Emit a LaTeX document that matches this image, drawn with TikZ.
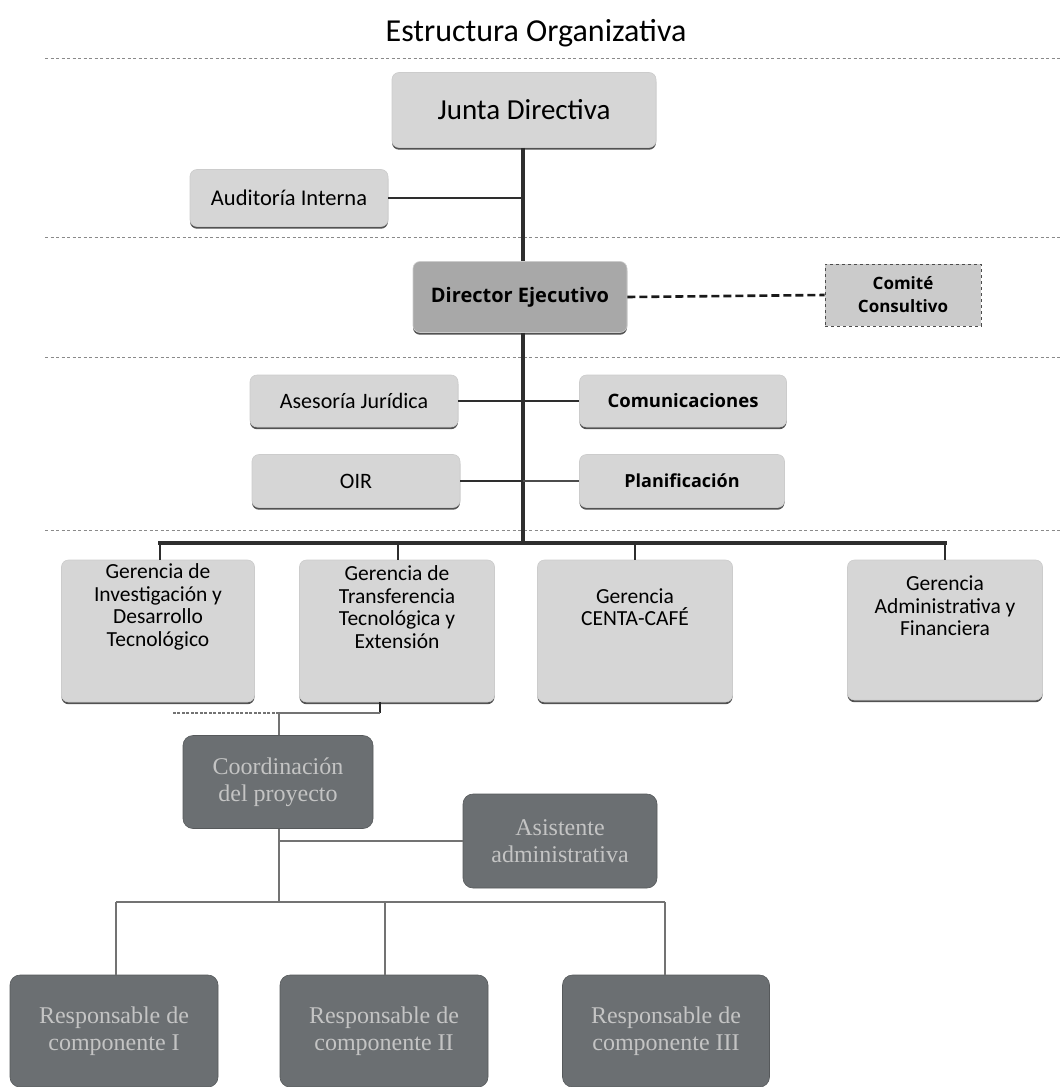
\documentclass[tikz,border=0pt]{standalone}
\usepackage{fontspec}
\setmainfont{Carlito}
\newfontfamily\osans{Open Sans}
\newfontfamily\tnr{Liberation Serif}
\usetikzlibrary{shadows}
\definecolor{lightbox}{HTML}{D6D6D6}
\definecolor{midbox}{HTML}{A8A8A8}
\definecolor{darkbox}{HTML}{6B6F72}
\definecolor{darktext}{HTML}{C4C4C4}
\definecolor{sepline}{HTML}{8A8A8A}
\definecolor{trunk}{HTML}{2E2E2E}
\begin{document}
\begin{tikzpicture}[x=1pt,y=-1pt,
  lbox/.style={rectangle, rounded corners=7pt, fill=lightbox, draw=black!20, line width=0.6pt,
    align=center, inner sep=2pt,
    drop shadow={shadow xshift=0pt, shadow yshift=-2.2pt, fill=black!75, opacity=0.9}},
  dbox/.style={rectangle, rounded corners=10pt, fill=darkbox, draw=darkbox!80!black, line width=0.6pt,
    align=center, text=darktext, font=\tnr\fontsize{24}{27}\selectfont},
  sep/.style={draw=sepline, line width=0.9pt, dash pattern=on 3pt off 2.5pt},
  thick trunk/.style={draw=trunk, line width=3.5pt},
  mid link/.style={draw=trunk, line width=2.8pt},
  thin link/.style={draw=black!70, line width=1.6pt},
  grey link/.style={draw=black!55, line width=1.4pt},
  txt/.style={font=\fontsize{21.5}{22.5}\selectfont, align=center}
]
\useasboundingbox[fill=white] (0,0) rectangle (1062,1087);

% title
\node[font=\fontsize{32}{34}\selectfont] (title) at (536,33) {Estructura Organizativa};

% separators
\coordinate (s1a) at (45,58);   \coordinate (s1b) at (1062,58);
\coordinate (s2a) at (45,237);  \coordinate (s2b) at (1062,237);
\coordinate (s3a) at (45,357);  \coordinate (s3b) at (1062,357);
\coordinate (s4a) at (45,530);  \coordinate (s4b) at (1062,530);
\path[sep] (s1a) -- (s1b);
\path[sep] (s2a) -- (s2b);
\path[sep] (s3a) -- (s3b);
\path[sep] (s4a) -- (s4b);

% top level
\node[lbox, minimum width=264, minimum height=75, font=\fontsize{29}{32}\selectfont] (jd) at (524,110) {Junta Directiva};
\node[lbox, minimum width=198, minimum height=57, font=\fontsize{22.5}{24}\selectfont] (aud) at (289,198) {Auditoría Interna};
\node[lbox, fill=midbox, minimum width=214, minimum height=71, font=\osans\bfseries\fontsize{20}{22}\selectfont] (de) at (520,297) {Director Ejecutivo};
\node[rectangle, fill=lightbox!95!black, draw=black!70, dashed, line width=0.8pt, minimum width=156, minimum height=62,
      align=center, font=\osans\bfseries\fontsize{17}{23}\selectfont] (cc) at (903,295) {Comité\\Consultivo};

\node[lbox, minimum width=208, minimum height=52, font=\fontsize{22}{24}\selectfont] (aj) at (354,401) {Asesoría Jurídica};
\node[lbox, minimum width=207, minimum height=52, font=\osans\bfseries\fontsize{18.5}{20}\selectfont] (com) at (683,401) {Comunicaciones};
\node[lbox, minimum width=208, minimum height=53, font=\fontsize{22}{24}\selectfont] (oir) at (356,481) {OIR};
\node[lbox, minimum width=205, minimum height=53, font=\osans\bfseries\fontsize{18}{20}\selectfont] (pla) at (682,481) {Planificación};

% gerencias
\node[lbox, minimum width=193, minimum height=142] (g1) at (158,631) {};
\node[lbox, minimum width=195, minimum height=142] (g2) at (397,631) {};
\node[lbox, minimum width=195, minimum height=142] (g3) at (635,631) {};
\node[lbox, minimum width=195, minimum height=140] (g4) at (945,630) {};
\node[txt] (g1t) at (158,607) {Gerencia de\\Investigación y\\Desarrollo\\Tecnológico};
\node[txt] (g2t) at (397,607) {Gerencia de\\Transferencia\\Tecnológica y\\Extensión};
\node[txt] (g3t) at (635,607) {Gerencia\\CENTA-CAFÉ};
\node[txt] (g4t) at (945,606) {Gerencia\\Administrativa y\\Financiera};

% project level
\node[dbox, minimum width=190, minimum height=93] (coord) at (278,782) {Coordinación\\del proyecto};
\node[dbox, minimum width=194, minimum height=94] (asis) at (560,841) {Asistente\\administrativa};
\node[dbox, minimum width=208, minimum height=112] (r1) at (114,1031) {Responsable de\\componente I};
\node[dbox, minimum width=208, minimum height=112] (r2) at (384,1031) {Responsable de\\componente II};
\node[dbox, minimum width=207, minimum height=112] (r3) at (666,1031) {Responsable de\\componente III};

% trunk
\coordinate (tr0) at (523,148);
\coordinate (bus) at (523,543);
\path[thick trunk] (jd.south -| tr0) -- (de.north -| tr0);
\path[thick trunk] (de.south -| tr0) -- (bus);
\path[mid link] (aud.east) -- (aud.east -| tr0);
\path[draw=black!90, line width=2.6pt, dash pattern=on 8pt off 4pt] (de.east) -- (cc.west);
\path[mid link] (aj.east) -- (com.west);
\path[mid link] (oir.east) -- (oir.east -| tr0);
\path[thin link] (oir.east -| tr0) -- (pla.west);

% bus to gerencias
\coordinate (b1) at (160,543);
\coordinate (b4) at (945,543);
\path[thick trunk, line cap=rect] (b1) -- (b4);
\path[mid link] (b1) -- (b1 |- g1.north);
\path[mid link] (398,543) -- (398,560);
\path[mid link] (635,543) -- (635,560);
\path[mid link] (b4) -- (g4.north);

% from gerencia 2 to coordination
\coordinate (gt) at (380,702);
\coordinate (gc) at (380,713);
\coordinate (gl) at (172,713);
\coordinate (ct) at (279,713);
\path[draw=black!85, line width=1.6pt] (gt) -- (gc);
\path[grey link] (gc) -- (ct);
\path[draw=black!55, line width=1.2pt, dash pattern=on 3pt off 1.5pt] (ct) -- (gl);
\path[grey link] (ct) -- (ct |- coord.north);

% coordination down
\coordinate (cb) at (279,902);
\path[grey link] (coord.south -| cb) -- (cb);
\path[grey link] (asis.west -| cb) -- (asis.west);
\coordinate (rb1) at (116,902);
\coordinate (rb3) at (665,902);
\path[grey link] (rb1) -- (rb3);
\path[grey link] (rb1) -- (rb1 |- r1.north);
\path[grey link] (385,902) -- (385,975);
\path[grey link] (rb3) -- (rb3 |- r3.north);
\end{tikzpicture}
\end{document}
